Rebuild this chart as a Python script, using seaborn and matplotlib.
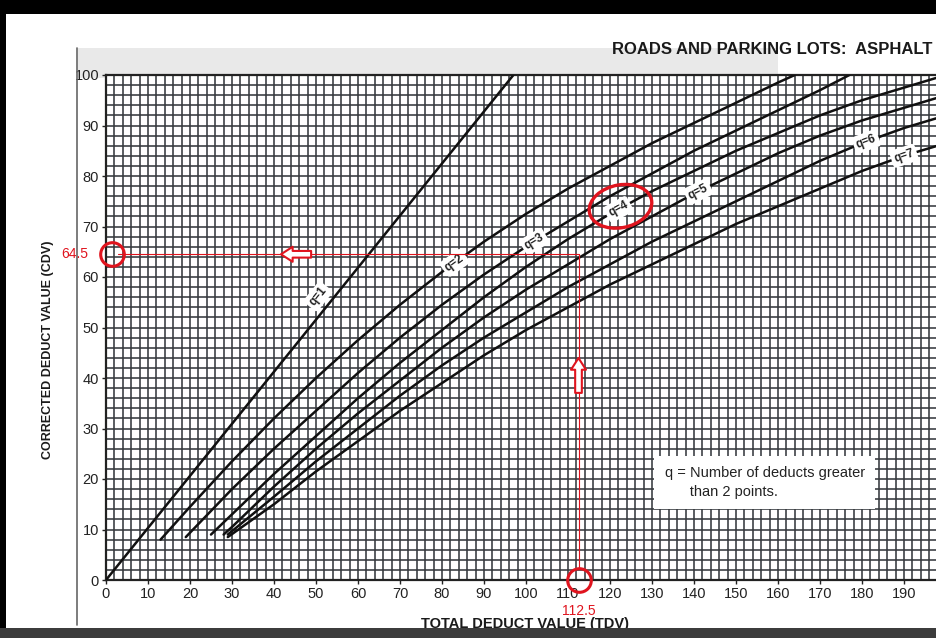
import matplotlib
matplotlib.use("Agg")
import matplotlib.pyplot as plt
import numpy as np
import pandas as pd
import seaborn as sns
from matplotlib.patches import Ellipse, Rectangle

# --- data --------------------------------------------------------------------
q1_tdv = [0, 97]
q1_cdv = [0, 100]

q2_tdv = [13, 20, 30, 40, 50, 60, 70, 80, 90, 100, 110, 120, 130, 140, 150, 160, 164]
q2_cdv = [8, 14.5, 23.5, 32, 40, 47.5, 54.5, 61, 67, 72.5, 77.5, 82, 86.5, 90.5, 94.5, 98.5, 100]

q3_tdv = [19, 30, 40, 50, 60, 70, 80, 90, 100, 110, 120, 130, 140, 150, 160, 170, 177]
q3_cdv = [8.5, 18, 26, 33.5, 41, 48, 54.5, 60.5, 66, 71, 76, 80.5, 85, 89, 93, 97, 100]

q4_tdv = [25, 30, 40, 50, 60, 70, 80, 90, 100, 110, 120, 130, 140, 150, 160, 170, 180, 190, 200]
q4_cdv = [9, 13, 21, 28.5, 36, 43, 49.5, 56, 62, 67.5, 72.5, 77, 81, 85, 88.5, 92, 95, 97.5, 100]

q5_tdv = [28, 30, 40, 50, 60, 70, 80, 90, 100, 110, 120, 130, 140, 150, 160, 170, 180, 190, 200]
q5_cdv = [9, 10.5, 18.5, 26, 33, 39.5, 46, 52, 57.5, 62.5, 67.5, 72, 76.5, 80.5, 84.5, 88, 91, 93.5, 96]

q6_tdv = [29, 40, 50, 60, 70, 80, 90, 100, 110, 120, 130, 140, 150, 160, 170, 180, 190, 200]
q6_cdv = [9, 16.5, 23.5, 30, 36.5, 42.5, 48, 53, 58, 62.5, 67, 71, 75, 79, 83, 86.5, 89.5, 92]

q7_tdv = [29, 40, 50, 60, 70, 80, 90, 100, 110, 120, 130, 140, 150, 160, 170, 180, 190, 200]
q7_cdv = [8.5, 15, 21.5, 27.5, 33.5, 39, 44.5, 49.5, 54, 58.5, 62.5, 66.5, 70.5, 74, 77.5, 81, 84, 86.5]

curve_names = ["q=1", "q=2", "q=3", "q=4", "q=5", "q=6", "q=7"]
curve_tdv = [q1_tdv, q2_tdv, q3_tdv, q4_tdv, q5_tdv, q6_tdv, q7_tdv]
curve_cdv = [q1_cdv, q2_cdv, q3_cdv, q4_cdv, q5_cdv, q6_cdv, q7_cdv]
label_at = [53.5, 83, 102, 122, 141, 181, 190]   # TDV where each q label sits

x_ticks = list(range(0, 200, 10))
y_ticks = list(range(0, 101, 10))

cdv_read = 64.5
tdv_read = 112.5

frames = []
for name, t, c in zip(curve_names, curve_tdv, curve_cdv):
    frames.append(pd.DataFrame({"TDV": t, "CDV": c, "q": name}))
df = pd.concat(frames, ignore_index=True)

# --- style ------------------------------------------------------------------
sns.set_theme(style="white")
plt.rcParams["font.family"] = ["Liberation Sans Narrow", "Liberation Sans", "DejaVu Sans"]

fig = plt.figure(figsize=(9.36, 6.38), dpi=100)
fig.patch.set_facecolor("white")
ax = fig.add_axes([106 / 936, 58 / 638, 840 / 936, 505 / 638])
ax.set_facecolor("white")

sns.lineplot(data=df, x="TDV", y="CDV", hue="q", palette=["#111111"] * 7,
             sort=False, estimator=None, linewidth=1.8, legend=False, ax=ax, zorder=3)

ax.set_xlim(0, 200)
ax.set_ylim(0, 100)
ax.set_xticks(x_ticks)
ax.set_yticks(y_ticks)
ax.set_xticks(np.arange(0, 201, 2), minor=True)
ax.set_yticks(np.arange(0, 101, 2), minor=True)
ax.grid(which="both", color="#363a3e", linewidth=1.15)
ax.set_axisbelow(True)
ax.tick_params(which="major", length=3, width=1, color="#222222", left=True, bottom=True,
               labelsize=10.5, pad=2, labelcolor="#222222")
ax.tick_params(which="minor", length=0)
for s in ["left", "bottom", "top"]:
    ax.spines[s].set_color("#222222")
    ax.spines[s].set_linewidth(1.6)
ax.spines["right"].set_visible(False)
ax.set_xlabel("")
ax.set_ylabel("")

# curve labels on white patches
for name, t, c, xl in zip(curve_names, curve_tdv, curve_cdv, label_at):
    yl = np.interp(xl, t, c)
    if name == "q=1":
        xl, yl = xl - 3, yl + 1
    p1 = ax.transData.transform((xl - 2, np.interp(xl - 2, t, c)))
    p2 = ax.transData.transform((xl + 2, np.interp(xl + 2, t, c)))
    ang = np.degrees(np.arctan2(p2[1] - p1[1], p2[0] - p1[0]))
    ax.text(xl, yl, name, rotation=ang, rotation_mode="anchor", ha="center", va="center",
            fontsize=8.5, fontweight="bold", color="#222222", zorder=5,
            bbox=dict(boxstyle="round,pad=0.25", fc="white", ec="none"))

ax.text(133, 19.3, "q = Number of deducts greater\n      than 2 points.", fontsize=10.5,
        color="#222222", va="center", ha="left", zorder=5, linespacing=1.45,
        bbox=dict(boxstyle="square,pad=0.7", fc="white", ec="none"))

# red reading annotations
red = "#e0141e"
ax.plot([2.8, tdv_read], [cdv_read, cdv_read], color=red, lw=0.8, zorder=6)
ax.plot([tdv_read, tdv_read], [2.4, cdv_read], color=red, lw=0.8, zorder=6)
ax.plot([1.4], [cdv_read], marker="o", ms=17, mfc="none", mec=red, mew=2.2, zorder=7, clip_on=False)
ax.plot([tdv_read], [0], marker="o", ms=17, mfc="none", mec=red, mew=2.2, zorder=7, clip_on=False)
ax.add_patch(Ellipse((122.5, 74), 15, 8.5, angle=8, fill=False, ec=red, lw=2.4, zorder=7))
ax.annotate("", xy=(41, cdv_read), xytext=(49.5, cdv_read), zorder=7,
            arrowprops=dict(arrowstyle="simple,head_width=0.9,head_length=0.7,tail_width=0.4",
                            fc="white", ec=red, lw=1.5))
ax.annotate("", xy=(tdv_read, 44.5), xytext=(tdv_read, 36.5), zorder=7,
            arrowprops=dict(arrowstyle="simple,head_width=0.9,head_length=0.7,tail_width=0.4",
                            fc="white", ec=red, lw=1.5))
ax.text(-7.5, cdv_read, "64.5", color=red, fontsize=10, ha="center", va="center", clip_on=False,
        family=["Liberation Sans", "DejaVu Sans"])
ax.text(tdv_read, -6.1, "112.5", color=red, fontsize=10, ha="center", va="center", clip_on=False,
        family=["Liberation Sans", "DejaVu Sans"])

# page texts
fig.text(932 / 936, 1 - 50 / 638, "ROADS AND PARKING LOTS:  ASPHALT", ha="right", va="center",
         fontsize=12, fontweight="bold", color="#1a1a1a")
fig.text(48 / 936, 1 - 350 / 638, "CORRECTED DEDUCT VALUE (CDV)", rotation=90, ha="center",
         va="center", fontsize=9, fontweight="bold", color="#1a1a1a")
fig.text(525 / 936, 1 - 624 / 638, "TOTAL DEDUCT VALUE (TDV)", ha="center", va="center",
         fontsize=10.5, fontweight="bold", color="#1a1a1a")

# scan page edge, shading and screenshot frame
fig.patches.append(Rectangle((78 / 936, 1 - 78 / 638), 700 / 936, 30 / 638, transform=fig.transFigure,
                             fc="#e9e9e9", ec="none", zorder=-1))
fig.add_artist(plt.Line2D([77 / 936, 77 / 936], [1 - 625 / 638, 1 - 48 / 638], transform=fig.transFigure,
                          color="#666666", lw=1.2))
fig.patches.append(Rectangle((0, 1 - 14 / 638), 1, 14 / 638, transform=fig.transFigure,
                             fc="black", ec="none", zorder=10))
fig.patches.append(Rectangle((0, 0), 6 / 936, 1, transform=fig.transFigure,
                             fc="black", ec="none", zorder=10))
fig.patches.append(Rectangle((0, 0), 1, 10 / 638, transform=fig.transFigure,
                             fc="#3c3c3c", ec="none", zorder=10))

fig.savefig("out.png", dpi=100)
